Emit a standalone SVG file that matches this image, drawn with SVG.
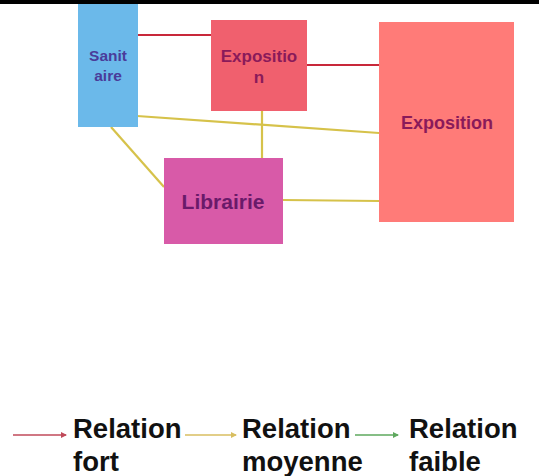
<svg xmlns="http://www.w3.org/2000/svg" width="539" height="476" viewBox="0 0 539 476">
<defs>
<style>
.lbl{font-family:"Liberation Sans",Arial,sans-serif;font-weight:bold;text-anchor:middle}
.leg{font-family:"Liberation Sans",Arial,sans-serif;font-weight:bold;font-size:27.5px;fill:#111}
.strong{stroke:#C8283A;stroke-width:2;fill:none}
.mid{stroke:#D6C24A;stroke-width:2.2;fill:none}
</style>
<marker id="ar" viewBox="0 0 6 6" refX="5" refY="3" markerWidth="4" markerHeight="4" orient="auto"><path d="M0,0 L6,3 L0,6 z" fill="#C04A5A"/></marker>
<marker id="ay" viewBox="0 0 6 6" refX="5" refY="3" markerWidth="4" markerHeight="4" orient="auto"><path d="M0,0 L6,3 L0,6 z" fill="#D8BE60"/></marker>
<marker id="ag" viewBox="0 0 6 6" refX="5" refY="3" markerWidth="4" markerHeight="4" orient="auto"><path d="M0,0 L6,3 L0,6 z" fill="#5EA85E"/></marker>
</defs>
<rect x="0" y="0" width="539" height="476" fill="#fff"/>
<rect x="0" y="0" width="539" height="4" fill="#000"/>
<g id="connectors">
<line class="strong" x1="138" y1="35" x2="211" y2="35"/>
<line class="strong" x1="307" y1="65" x2="379" y2="65"/>
<line class="mid" x1="137" y1="116" x2="379" y2="133"/>
<line class="mid" x1="262" y1="111" x2="262" y2="158"/>
<line class="mid" x1="111" y1="127" x2="164" y2="187"/>
<line class="mid" x1="283" y1="200" x2="379" y2="201"/>
</g>
<g id="sanitaire">
<rect x="78" y="4" width="60" height="123" fill="#6BB9EA"/>
<text class="lbl" x="108" y="61" font-size="15.5" fill="#4A3C9A">Sanit</text>
<text class="lbl" x="108" y="81" font-size="15.5" fill="#4A3C9A">aire</text>
</g>
<g id="exposition-small">
<rect x="211" y="20" width="96" height="91" fill="#F0606E"/>
<text class="lbl" x="259" y="62" font-size="17" fill="#8A1A5A">Expositio</text>
<text class="lbl" x="259" y="83" font-size="17" fill="#8A1A5A">n</text>
</g>
<g id="exposition-big">
<rect x="379" y="22" width="135" height="200" fill="#FF7B78"/>
<text class="lbl" x="447" y="129" font-size="18" fill="#8A1A5A">Exposition</text>
</g>
<g id="librairie">
<rect x="164" y="158" width="119" height="86" fill="#D85AA8"/>
<text class="lbl" x="223" y="209" font-size="21" fill="#6A1A6A">Librairie</text>
</g>
<g id="legend">
<line x1="13" y1="435" x2="66" y2="435" stroke="#C04A5A" stroke-width="1.5" marker-end="url(#ar)"/>
<line x1="185" y1="435" x2="236" y2="435" stroke="#D8BE60" stroke-width="1.5" marker-end="url(#ay)"/>
<line x1="355" y1="435" x2="398" y2="435" stroke="#5EA85E" stroke-width="1.5" marker-end="url(#ag)"/>
<text class="leg" x="73" y="438">Relation</text>
<text class="leg" x="73" y="471">fort</text>
<text class="leg" x="242" y="438">Relation</text>
<text class="leg" x="242" y="471">moyenne</text>
<text class="leg" x="409" y="438">Relation</text>
<text class="leg" x="409" y="471">faible</text>
</g>
</svg>
